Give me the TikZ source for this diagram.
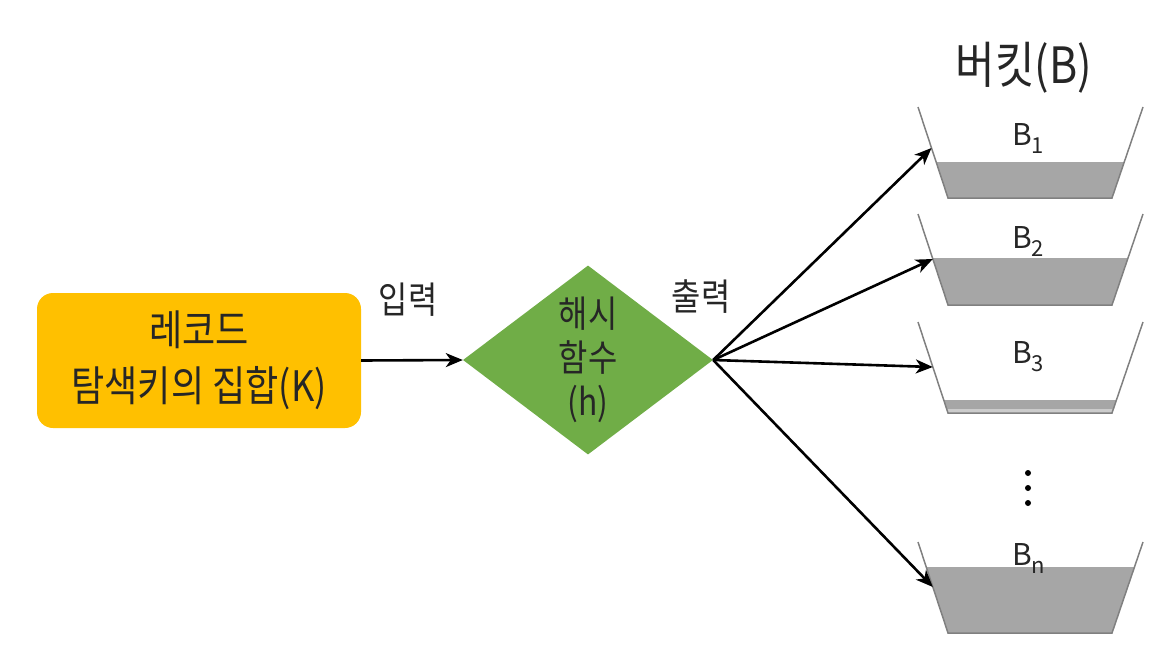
\documentclass[tikz,border=0pt]{standalone}
\usepackage{fontspec}
\setmainfont{Noto Sans CJK KR}[FakeStretch=0.86]
\newfontfamily\labelfont{Noto Sans CJK KR}
\usetikzlibrary{arrows.meta, positioning, shapes.geometric}
\definecolor{keyyellow}{HTML}{FFC000}
\definecolor{hashgreen}{HTML}{70AD47}
\definecolor{bucketgray}{HTML}{A6A6A6}
\definecolor{wallgray}{HTML}{808080}
\newcommand\bsub[1]{\raisebox{-8pt}{\fontsize{22}{22}\selectfont #1}}

\begin{document}
\begin{tikzpicture}[x=1pt, y=-1pt,
    keyset/.style={fill=keyyellow, rounded corners=16pt, minimum width=324pt,
        minimum height=135pt, align=center, font=\fontsize{42}{56}\selectfont, text=black!85},
    hashfn/.style={diamond, fill=hashgreen, minimum width=250pt, minimum height=189pt,
        inner sep=0pt, aspect=1.32, align=center, font=\fontsize{37}{44}\selectfont, text=black!85},
    flowlbl/.style={font=\fontsize{37}{37}\selectfont, text=black!85},
    level/.style={fill=bucketgray},
    wall/.style={draw=wallgray, line width=1.5pt},
    bname/.style={anchor=base west, inner sep=0pt, font=\labelfont\fontsize{30}{30}\selectfont, text=black!85},
    arrow/.style={-{Stealth[length=17pt, width=14pt, inset=5pt]}, line width=2.6pt}
]
\useasboundingbox (0,0) rectangle (1168,648);

% Input and hash function
\node[keyset] (keys) at (199,360.5) {레코드\\탐색키의 집합(K)};
\node[hashfn] (hash) at (588,360) {해시\\함수\\(h)};
\node[flowlbl] (inlbl) at (408,300) {입력};
\node[flowlbl] (outlbl) at (701,297) {출력};

\draw[arrow] (keys.east) -- (hash.west);

% Buckets
\node[font=\fontsize{50}{50}\selectfont, text=black!85] (bucketlbl) at (1024,68) {버킷(B)};

\begin{scope}[shift={(918,107)}]
  \fill[level] (18.1,55) -- (30,91) -- (194,91) -- (206.3,55) -- cycle;
  \draw[wall] (0,0) -- (30,91) -- (194,91) -- (225,0);
  \node[bname] (b1lbl) at (94,38) {B\bsub{1}};
  \coordinate (in1) at (13.5,41);
\end{scope}

\begin{scope}[shift={(918,214)}]
  \fill[level] (14.5,44) -- (30,91) -- (194,91) -- (210,44) -- cycle;
  \draw[wall] (0,0) -- (30,91) -- (194,91) -- (225,0);
  \node[bname] (b2lbl) at (94,34) {B\bsub{2}};
  \coordinate (in2) at (14.8,45);
\end{scope}

\begin{scope}[shift={(918,322)}]
  \fill[level] (25.7,78) -- (30,91) -- (194,91) -- (198.4,78) -- cycle;
  \fill[black!20] (28.7,87) -- (30,91) -- (194,91) -- (195.4,87) -- cycle;
  \draw[wall] (0,0) -- (30,91) -- (194,91) -- (225,0);
  \node[bname] (b3lbl) at (94,41) {B\bsub{3}};
  \coordinate (in3) at (14.8,45);
\end{scope}

\fill (1028,473) circle (3pt);
\fill (1028,488) circle (3pt);
\fill (1028,503) circle (3pt);

\begin{scope}[shift={(918,542)}]
  \fill[level] (8.2,25) -- (30,91) -- (194,91) -- (216.5,25) -- cycle;
  \draw[wall] (0,0) -- (30,91) -- (194,91) -- (225,0);
  \node[bname] (bnlbl) at (94,23) {B\bsub{n}};
  \coordinate (inn) at (14.8,45);
\end{scope}

% Hash output
\draw[arrow] (hash.east) -- (in1);
\draw[arrow] (hash.east) -- (in2);
\draw[arrow] (hash.east) -- (in3);
\draw[arrow] (hash.east) -- (inn);

\end{tikzpicture}
\end{document}
